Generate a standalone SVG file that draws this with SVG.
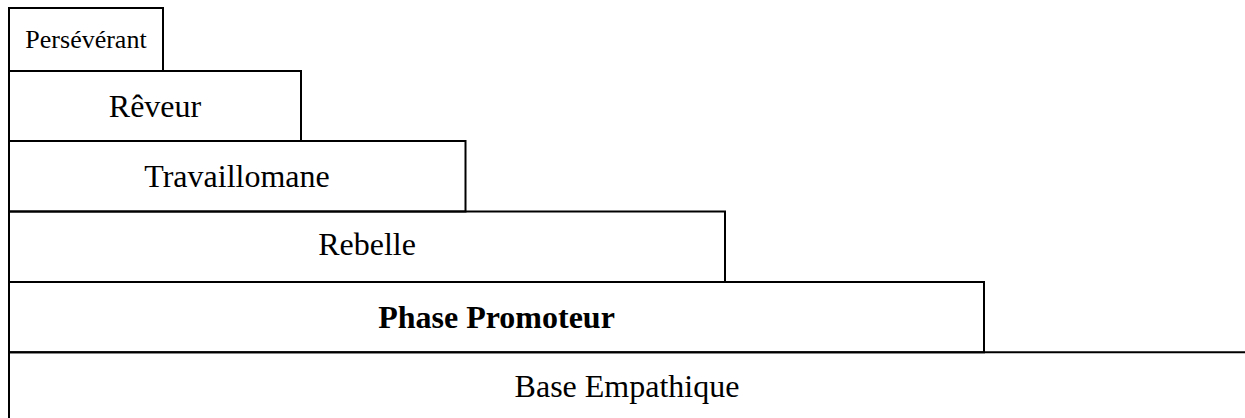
<svg xmlns="http://www.w3.org/2000/svg" width="1245" height="418" viewBox="0 0 1245 418">
<style>
.box{fill:none;stroke:#000;stroke-width:2}
.t{font-family:"Liberation Serif","Times New Roman",serif;font-size:32px;fill:#000;text-anchor:middle}
.s{font-size:26px}
.b{font-weight:bold}
</style>
<rect width="1245" height="418" fill="#fff"/>
<g id="perseverant">
<rect class="box" x="9" y="8" width="154" height="63"/>
<text class="t s" x="86" y="48">Persévérant</text>
</g>
<g id="reveur">
<rect class="box" x="9" y="71" width="292" height="70"/>
<text class="t" x="155" y="117">Rêveur</text>
</g>
<g id="travaillomane">
<rect class="box" x="9" y="141" width="456.5" height="70.5"/>
<text class="t" x="237" y="187">Travaillomane</text>
</g>
<g id="rebelle">
<rect class="box" x="9" y="211.5" width="716" height="70.5"/>
<text class="t" x="367" y="255">Rebelle</text>
</g>
<g id="promoteur">
<rect class="box" x="9" y="282" width="975" height="70.3"/>
<text class="t b" x="496.5" y="328">Phase Promoteur</text>
</g>
<g id="base">
<path class="box" d="M1245 352.3H9V418"/>
<text class="t" x="627" y="397">Base Empathique</text>
</g>
<g id="connectors"></g>
</svg>
